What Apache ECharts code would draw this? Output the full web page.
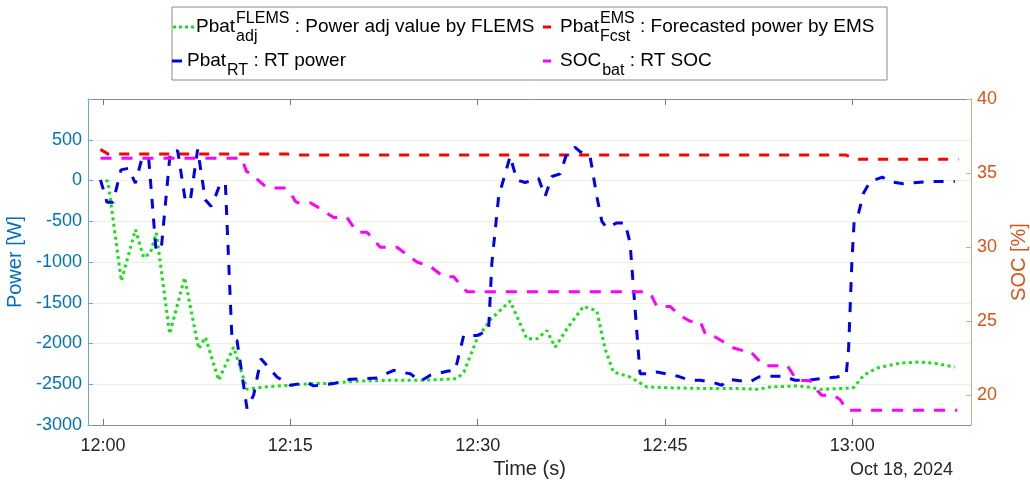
<!DOCTYPE html>
<html>
<head>
<meta charset="utf-8">
<script src="https://cdn.jsdelivr.net/npm/echarts@6/dist/echarts.min.js"></script>
<style>
  html, body { margin: 0; padding: 0; background: #ffffff; }
  #chart { width: 1030px; height: 486px; }
</style>
</head>
<body>
<div id="chart"></div>
<script>
// Each point: [minutes after 12:00, value]
const adjPower = [
  [0.2, 0], [0.4, -10], [1.47, -1232], [2.6, -602], [3.26, -947], [3.8, -886],
  [4.27, -642], [5.34, -1882], [6.54, -1191], [7.66, -2065], [8.2, -1923],
  [9.26, -2451], [10.46, -2045], [11.53, -2561], [12.9, -2533], [15.0, -2512],
  [16.6, -2492], [17.7, -2492], [20.3, -2463], [23.0, -2451], [25.7, -2451],
  [28.35, -2431], [28.9, -2350], [29.95, -1943], [31.0, -1710], [32.6, -1480],
  [33.94, -1943], [34.74, -1943], [35.54, -1841], [36.2, -2045], [37.14, -1821],
  [38.47, -1545], [39.54, -1598], [40.2, -2065], [40.87, -2350], [42.2, -2411],
  [43.54, -2533], [45.7, -2545], [48.6, -2553], [50.5, -2553], [52.5, -2561],
  [53.4, -2533], [55.56, -2520], [56.6, -2537], [57.4, -2561], [59.0, -2553],
  [60.1, -2541], [60.9, -2390], [61.97, -2301], [63.84, -2240], [65.17, -2228],
  [66.5, -2240], [68.2, -2289]
];

const rtPower = [
  [-0.2, 8], [0.32, -268], [0.8, -268], [1.44, 130], [2.05, 150], [2.59, -33],
  [3.12, 272], [3.66, 272], [4.25, -866], [4.7, -780], [5.39, 354], [5.98, 366],
  [6.6, -256], [7.0, -236], [7.58, 382], [8.19, -236], [8.65, -317], [9.0, -195],
  [9.4, -33], [9.8, -41], [10.33, -1963], [10.73, -1963], [11.53, -2797],
  [12.06, -2634], [12.65, -2187], [13.93, -2411], [15.0, -2512], [16.33, -2480],
  [16.87, -2520], [18.47, -2492], [19.8, -2439], [21.94, -2423], [23.27, -2329],
  [23.8, -2350], [24.6, -2370], [25.4, -2463], [26.2, -2390], [27.54, -2341],
  [28.2, -2329], [28.88, -1902], [29.93, -1902], [30.87, -1841], [31.14, -1008],
  [31.68, -195], [32.2, 80], [32.6, 300], [33.13, 8], [33.8, -24], [34.87, 28],
  [35.4, -195], [35.94, 49], [36.6, 81], [37.14, 333], [37.8, 407], [38.2, 354],
  [39.0, 293], [39.54, -195], [39.94, -500], [40.34, -581], [41.14, -520],
  [41.8, -520], [42.2, -764], [43.0, -2370], [43.8, -2370], [44.34, -2350],
  [45.94, -2398], [47.0, -2451], [47.82, -2451], [48.9, -2480], [49.55, -2512],
  [50.1, -2439], [51.8, -2472], [52.5, -2411], [53.16, -2402], [54.5, -2402],
  [55.4, -2451], [56.36, -2451], [57.4, -2431], [58.76, -2411], [59.5, -2390],
  [59.7, -2065], [59.96, -1008], [60.15, -480], [60.5, -398], [60.9, -154],
  [61.43, -12], [62.4, 41], [63.0, -12], [64.1, -41], [65.2, -24], [66.5, -12],
  [68.2, -12]
];

const fcstPower = [
  [-0.2, 382], [0.4, 325], [14.8, 325], [15.6, 313], [59.5, 313], [60.2, 260], [68.5, 260]
];

const socBat = [
  [-0.2, 36], [11.1, 36], [11.5, 35.1], [11.8, 35], [12.86, 34.2], [13.2, 34],
  [14.5, 34], [15.0, 33.7], [15.4, 33.1], [15.6, 33], [16.6, 33], [17.4, 32.6],
  [18.47, 32], [19.54, 32], [20.34, 31], [21.14, 31], [22.2, 30], [23.54, 30],
  [24.34, 29.5], [25.14, 29], [26.2, 28.7], [27.28, 28], [28.08, 28], [28.74, 27.35],
  [29.14, 27], [43.54, 27], [43.94, 26.7], [44.34, 26], [45.4, 26], [46.2, 25.4],
  [47.0, 25], [47.82, 25], [48.25, 24.1], [48.9, 24], [49.7, 23.6], [50.5, 23.2],
  [51.3, 23], [51.8, 23], [52.9, 22], [54.8, 22], [55.56, 21], [56.6, 21],
  [57.0, 20.5], [57.56, 20], [58.5, 20], [59.03, 19.7], [59.56, 19], [68.4, 19]
];

const timeTicks = [0, 15, 30, 45, 60];
const socTicks = [20, 25, 30, 35, 40];
const dateLabel = 'Oct 18, 2024';

const FONT = '"Liberation Sans", Arial, Helvetica, sans-serif';
const GREEN = '#16e016';
const RED = '#ff0000';
const BLUE = '#0000f0';
const MAGENTA = '#ff00ff';
const AX_BLUE = '#0072BD';
const AX_ORANGE = '#D95319';

function clock(t) {
  const h = 12 + Math.floor(t / 60);
  const m = Math.round(t % 60);
  return h + ':' + (m < 10 ? '0' + m : m);
}

// Legend entries: base text with stacked super/subscripts
const legendItems = [
  { base: 'Pbat', sup: 'FLEMS', sub: 'adj', rest: ' : Power adj value by FLEMS', color: GREEN,
    icon: [173, 194], dotted: true, x: 196, y: 27 },
  { base: 'Pbat', sup: 'EMS', sub: 'Fcst', rest: ' : Forecasted power by EMS', color: RED,
    icon: [543, 551], x: 560, y: 27 },
  { base: 'Pbat', sup: '', sub: 'RT', rest: ' : RT power', color: BLUE,
    icon: [172, 182], x: 187, y: 61 },
  { base: 'SOC', sup: '', sub: 'bat', rest: ' : RT SOC', color: MAGENTA,
    icon: [543, 551], x: 560, y: 61 }
];

const measureCtx = document.createElement('canvas').getContext('2d');
function textWidth(s, size) {
  measureCtx.font = size + 'px ' + FONT;
  return measureCtx.measureText(s).width;
}

function txt(text, x, y, size, color) {
  return {
    type: 'text', x: x, y: y, z: 110, silent: true,
    style: { text: text, fontSize: size, fontFamily: FONT, fill: color || '#000',
             textAlign: 'left', textVerticalAlign: 'middle', verticalAlign: 'middle' }
  };
}

const MAIN = 19, SCRIPT = 16;
const legendGraphics = [{
  type: 'rect', z: 100, silent: true,
  shape: { x: 172, y: 7, width: 715, height: 73 },
  style: { fill: '#ffffff', stroke: '#8a8a8a', lineWidth: 1 }
}];
legendItems.forEach(function (it) {
  legendGraphics.push({
    type: 'line', z: 110, silent: true,
    shape: { x1: it.icon[0], y1: it.y, x2: it.icon[1], y2: it.y },
    style: { stroke: it.color, lineWidth: 3, lineDash: it.dotted ? [3, 3] : null }
  });
  const baseW = textWidth(it.base, MAIN);
  const scriptX = it.x + baseW + 1;
  legendGraphics.push(txt(it.base, it.x, it.y, MAIN));
  let scriptW = 0;
  if (it.sup) {
    legendGraphics.push(txt(it.sup, scriptX, it.y - 8, SCRIPT));
    scriptW = Math.max(scriptW, textWidth(it.sup, SCRIPT));
  }
  if (it.sub) {
    legendGraphics.push(txt(it.sub, scriptX, it.y + 10, SCRIPT));
    scriptW = Math.max(scriptW, textWidth(it.sub, SCRIPT));
  }
  legendGraphics.push(txt(it.rest, scriptX + scriptW, it.y, MAIN));
});

legendGraphics.push({
  type: 'text', z: 110, silent: true, right: 77, top: 461,
  style: { text: dateLabel, fontSize: 18, fontFamily: FONT, fill: '#262626' }
});

const chart = echarts.init(document.getElementById('chart'), null, { renderer: 'canvas' });

const dashed = [10, 10];

chart.setOption({
  animation: false,
  backgroundColor: '#ffffff',
  textStyle: { fontFamily: FONT },
  grid: { left: 88, right: 59, top: 99, bottom: 61, containLabel: false, outerBoundsMode: 'none' },
  xAxis: [{
    type: 'value', min: -1.2, max: 69.5, position: 'bottom',
    name: 'Time (s)', nameLocation: 'middle', nameGap: 33,
    nameTextStyle: { fontSize: 20, color: '#262626', fontFamily: FONT },
    axisLine: { show: true, onZero: false, lineStyle: { color: '#8c8c8c', width: 1 } },
    axisTick: { show: true, inside: true, length: 6, customValues: timeTicks, lineStyle: { color: '#777' } },
    axisLabel: { customValues: timeTicks, formatter: clock, fontSize: 18, color: '#262626', margin: 12, fontFamily: FONT },
    splitLine: { show: false }
  }, {
    type: 'value', min: -1.2, max: 69.5, position: 'top',
    axisLine: { show: true, onZero: false, lineStyle: { color: '#8c8c8c', width: 1 } },
    axisTick: { show: true, inside: true, length: 6, customValues: timeTicks, lineStyle: { color: '#777' } },
    axisLabel: { show: false },
    splitLine: { show: false }
  }],
  yAxis: [{
    type: 'value', min: -3000, max: 1000, interval: 500, position: 'left',
    name: 'Power [W]', nameLocation: 'middle', nameGap: 57, nameRotate: 90,
    nameTextStyle: { fontSize: 20, color: AX_BLUE, fontFamily: FONT },
    axisLine: { show: true, onZero: false, lineStyle: { color: '#6aa6d6', width: 1 } },
    axisTick: { show: true, inside: true, length: 5, lineStyle: { color: '#6aa6d6' } },
    axisLabel: {
      fontSize: 18, color: AX_BLUE, margin: 6, fontFamily: FONT,
      formatter: function (v) { return v > 500 ? '' : String(v); }
    },
    splitLine: { show: true, lineStyle: { color: '#ededed', width: 1 } }
  }, {
    type: 'value', min: 18, max: 40, position: 'right',
    name: 'SOC [%]', nameLocation: 'middle', nameGap: 38, nameRotate: 90,
    nameTextStyle: { fontSize: 20, color: AX_ORANGE, fontFamily: FONT },
    axisLine: { show: true, onZero: false, lineStyle: { color: '#d9aa8a', width: 1 } },
    axisTick: { show: true, inside: true, length: 5, customValues: socTicks, lineStyle: { color: '#d9aa8a' } },
    axisLabel: { customValues: socTicks, fontSize: 18, color: AX_ORANGE, margin: 6, fontFamily: FONT },
    splitLine: { show: false }
  }],
  graphic: legendGraphics,
  series: [{
    name: 'adj', type: 'line', data: adjPower, xAxisIndex: 0, yAxisIndex: 0,
    showSymbol: false, symbol: 'none',
    lineStyle: { color: GREEN, width: 3, type: [3, 3.5] }
  }, {
    name: 'fcst', type: 'line', data: fcstPower, xAxisIndex: 0, yAxisIndex: 0,
    showSymbol: false, symbol: 'none',
    lineStyle: { color: RED, width: 3, type: dashed }
  }, {
    name: 'rt', type: 'line', data: rtPower, xAxisIndex: 0, yAxisIndex: 0,
    showSymbol: false, symbol: 'none',
    lineStyle: { color: BLUE, width: 3, type: dashed }
  }, {
    name: 'soc', type: 'line', data: socBat, xAxisIndex: 0, yAxisIndex: 1,
    showSymbol: false, symbol: 'none',
    lineStyle: { color: MAGENTA, width: 3, type: [11, 10] }
  }]
});
</script>
</body>
</html>
